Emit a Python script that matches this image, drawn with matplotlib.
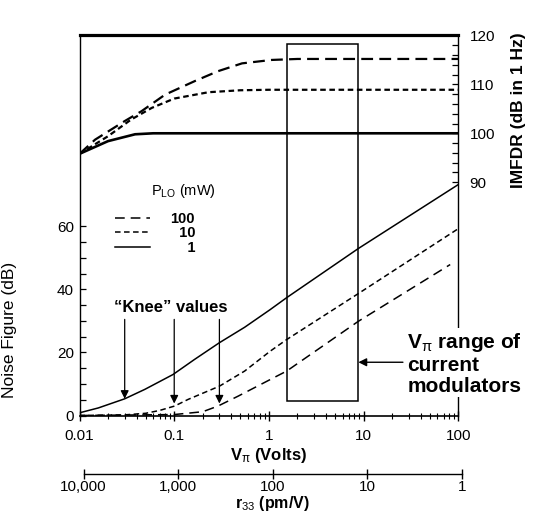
import matplotlib
matplotlib.use('Agg')
import matplotlib.pyplot as plt
from matplotlib.patches import Rectangle
from matplotlib.lines import Line2D
from matplotlib.ticker import FixedLocator, NullFormatter, NullLocator

plt.rcParams['font.family'] = ['Liberation Sans', 'DejaVu Sans']
plt.rcParams['mathtext.fontset'] = 'custom'
plt.rcParams['mathtext.rm'] = 'Liberation Sans'
plt.rcParams['mathtext.it'] = 'Liberation Sans:italic'
plt.rcParams['mathtext.bf'] = 'Liberation Sans:bold'
plt.rcParams['lines.scale_dashes'] = False

# noise figure (dB) vs V_pi (V), per LO power
nf_v_1 = [0.01, 0.0158, 0.03, 0.049, 0.097, 0.164, 0.3, 0.554, 1.03, 1.54, 8.8, 100]
nf_1 = [0.85, 2.4, 5.3, 8.3, 13.0, 17.8, 23.1, 28.0, 33.6, 37.4, 53.0, 73.3]
nf_v_10 = [0.01, 0.03, 0.05, 0.07, 0.101, 0.14, 0.3, 0.554, 1.03, 1.54, 8.8, 100]
nf_10 = [0.0, 0.2, 0.7, 1.6, 3.0, 5.1, 9.3, 14.1, 20.4, 24.1, 38.7, 59.3]
nf_v_100 = [0.01, 0.1, 0.2, 0.29, 0.47, 1.03, 1.54, 8.8, 82]
nf_100 = [0.0, 0.3, 1.2, 3.0, 6.1, 11.4, 14.1, 29.9, 47.9]

# IMFDR (dB in 1 Hz) vs V_pi (V), per LO power
im_v_1 = [0.01, 0.02, 0.0386, 0.06, 0.1, 1, 100]
im_1 = [95.8, 98.4, 99.8, 100.0, 100.0, 100.0, 100.0]
im_v_10 = [0.01, 0.02, 0.035, 0.058, 0.1, 0.23, 0.5, 1, 100]
im_10 = [95.8, 99.4, 102.8, 105.2, 107.1, 108.4, 108.8, 108.9, 108.9]
im_v_100 = [0.01, 0.0146, 0.03, 0.045, 0.08, 0.166, 0.29, 0.52, 1.07, 2, 100]
im_100 = [95.8, 98.7, 102.5, 104.5, 107.9, 110.7, 112.7, 114.3, 115.0, 115.2, 115.2]

# knee values and range of current modulators
knee_v = [0.03, 0.1, 0.3]
knee_nf = [5.3, 3.8, 3.8]
vpi_range = [1.54, 8.8]
range_nf = [4.76, 117.8]

r33_ticks = [10000, 1000, 100, 10, 1]
r33_labels = ['10,000', '1,000', '100', '10', '1']

long_dash = (0, (7, 4.3))
short_dash = (0, (4, 2.5))

fig = plt.figure(figsize=(5.34, 5.15), dpi=100)
ax = fig.add_axes([0.1489, 0.1932, 0.7094, 0.7379])
ax2 = ax.twinx()

# noise figure curves
ax.plot(nf_v_1, nf_1, color='black', lw=1.1, ls='-')
ax.plot(nf_v_10, nf_10, color='black', lw=1.1, ls=short_dash)
ax.plot(nf_v_100, nf_100, color='black', lw=1.1, ls=long_dash)

# IMFDR curves
ax2.plot(im_v_1, im_1, color='black', lw=1.9, ls='-')
ax2.plot(im_v_10, im_10, color='black', lw=1.6, ls=(0, (4, 2.6)))
ax2.plot(im_v_100, im_100, color='black', lw=1.6, ls=(0, (8.5, 4.5)))

ax.set_xscale('log')
ax.set_xlim(0.01, 100)
ax.set_ylim(0, 120.6)
ax2.set_ylim(42.3, 120)

ax.set_xticks([0.01, 0.1, 1, 10, 100])
ax.set_xticklabels(['0.01', '0.1', '1', '10', '100'])
ax.xaxis.set_minor_formatter(NullFormatter())
ax.tick_params(axis='x', which='major', direction='inout', length=7, width=1,
               labelsize=11, pad=6)
ax.tick_params(axis='x', which='minor', direction='inout', length=5, width=0.8)

ax.yaxis.set_major_locator(FixedLocator([0, 20, 40, 60]))
ax.yaxis.set_minor_locator(FixedLocator([5, 10, 15, 25, 30, 35, 45, 50, 55]))
ax.tick_params(axis='y', which='both', direction='in', length=4.5, width=0.9,
               labelsize=11, pad=4)

ax2.yaxis.set_major_locator(FixedLocator([90, 100, 110, 120]))
ax2.yaxis.set_minor_locator(FixedLocator(range(92, 120, 2)))
ax2.tick_params(axis='y', which='both', direction='in', length=4.5, width=0.9,
                labelsize=11, pad=8)
ax2.yaxis.set_minor_formatter(NullFormatter())

for s in ax2.spines.values():
    s.set_visible(False)
ax.spines['top'].set_linewidth(2.3)
ax.spines['left'].set_linewidth(1.0)
ax.spines['right'].set_linewidth(1.0)
ax.spines['bottom'].set_linewidth(1.2)

ax.set_xlabel(r'V$_{\mathrm{\pi}}$ (Volts)', fontsize=12, fontweight='bold')
ax.xaxis.set_label_coords(0.5, -0.08)
ax.set_ylabel('Noise Figure (dB)', fontsize=12.5)
ax.yaxis.set_label_coords(-0.165, 0.225)
ax2.set_ylabel('IMFDR (dB in 1 Hz)', fontsize=12.5, fontweight='bold')
ax2.yaxis.set_label_coords(1.14, 0.804)

# range of current modulators
ax.add_patch(Rectangle((vpi_range[0], range_nf[0]), vpi_range[1] - vpi_range[0],
                       range_nf[1] - range_nf[0], fill=False, lw=1.1,
                       edgecolor='black'))
ax.annotate('', xy=(vpi_range[1], 16.9), xytext=(26, 16.9),
            arrowprops=dict(arrowstyle='-|>', color='black', lw=1.0,
                            mutation_scale=12, shrinkA=0, shrinkB=0))
ax.text(29, 16.5, 'V$_{\\mathrm{\\pi}}$ range of\ncurrent\nmodulators',
        fontsize=15, fontweight='bold', ha='left', va='center',
        linespacing=1.12, zorder=5,
        bbox=dict(facecolor='white', edgecolor='none', pad=1))

# knee arrows
ax.text(0.0914, 34.3, '\u201cKnee\u201d values', fontsize=12, fontweight='bold',
        ha='center', va='center')
for v, nf in zip(knee_v, knee_nf):
    ax.annotate('', xy=(v, nf), xytext=(v, 30.5),
                arrowprops=dict(arrowstyle='-|>', color='black', lw=0.9,
                                mutation_scale=12, shrinkA=0, shrinkB=0))

# legend
handles = [Line2D([], [], color='black', lw=1.1, ls=long_dash),
           Line2D([], [], color='black', lw=1.1, ls=short_dash),
           Line2D([], [], color='black', lw=1.1, ls='-')]
ax.legend(handles, ['100', '  10', '    1'], loc='center left',
          bbox_to_anchor=(0.094, 0.479), frameon=False, handlelength=2.4,
          handletextpad=1.4, labelspacing=0.05, borderpad=0, borderaxespad=0,
          prop={'weight': 'bold', 'size': 10.5})
ax.text(0.188, 0.59, 'P$_{\\mathrm{LO}}$ (mW)', transform=ax.transAxes,
        fontsize=10.5, ha='left', va='center')

# r33 axis
rax = fig.add_axes([83.5 / 534, 41 / 515, 378.5 / 534, 0.001])
rax.set_xscale('log')
rax.set_xlim(10000, 1)
rax.set_xticks(r33_ticks)
rax.set_xticklabels(r33_labels)
rax.xaxis.set_minor_locator(NullLocator())
rax.yaxis.set_major_locator(NullLocator())
for k in ['top', 'left', 'right']:
    rax.spines[k].set_visible(False)
rax.spines['bottom'].set_linewidth(1.0)
rax.patch.set_visible(False)
rax.tick_params(axis='x', direction='inout', length=7, width=1, labelsize=11, pad=1)
rax.set_xlabel('r$_{\\mathrm{33}}$ (pm/V)', fontsize=11.5, fontweight='bold',
               labelpad=0)

fig.savefig('out.png', dpi=100, facecolor='white')
